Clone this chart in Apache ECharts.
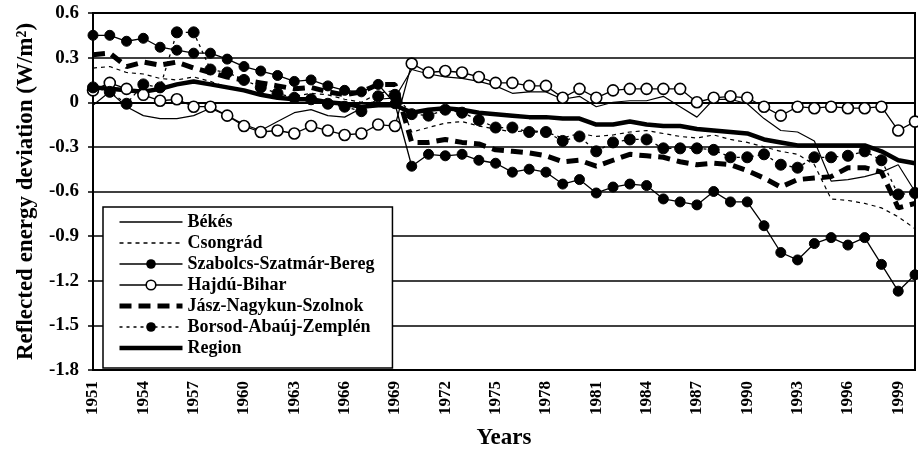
<!DOCTYPE html>
<html><head><meta charset="utf-8">
<script src="https://cdn.jsdelivr.net/npm/echarts@6/dist/echarts.min.js"></script>
<style>html,body{margin:0;padding:0;background:#fff}#c{width:918px;height:455px}</style>
</head><body><div id="c"></div>
<script>
var years = ['1951','1952','1953','1954','1955','1956','1957','1958','1959','1960',
'1961','1962','1963','1964','1965','1966','1967','1968','1969','1970',
'1971','1972','1973','1974','1975','1976','1977','1978','1979','1980',
'1981','1982','1983','1984','1985','1986','1987','1988','1989','1990',
'1991','1992','1993','1994','1995','1996','1997','1998','1999','2000'];

var bekes = [-0.02,0.07,-0.03,-0.09,-0.11,-0.11,-0.09,-0.04,-0.09,-0.15,
-0.19,-0.13,-0.07,-0.05,-0.09,-0.10,-0.04,0.02,0.03,0.22,
0.19,0.17,0.16,0.14,0.11,0.06,0.07,0.07,0.02,0.04,
-0.03,0.00,0.01,0.01,0.04,-0.03,-0.10,0.02,0.02,-0.01,
-0.11,-0.19,-0.20,-0.26,-0.53,-0.52,-0.50,-0.47,-0.42,-0.60];

var csongrad = [0.23,0.24,0.20,0.19,0.16,0.15,0.17,0.14,0.10,0.08,
0.05,0.03,0.04,0.06,0.05,0.02,0.00,0.06,0.08,-0.20,
-0.17,-0.14,-0.13,-0.16,-0.18,-0.20,-0.19,-0.20,-0.24,-0.21,
-0.23,-0.22,-0.20,-0.19,-0.21,-0.23,-0.24,-0.22,-0.25,-0.27,
-0.30,-0.33,-0.35,-0.42,-0.65,-0.66,-0.68,-0.71,-0.77,-0.85];

var szabolcs = [0.45,0.45,0.41,0.43,0.37,0.35,0.33,0.33,0.29,0.24,
0.21,0.18,0.14,0.15,0.11,0.08,0.07,0.12,-0.01,-0.43,
-0.35,-0.36,-0.35,-0.39,-0.41,-0.47,-0.45,-0.47,-0.55,-0.52,
-0.61,-0.57,-0.55,-0.56,-0.65,-0.67,-0.69,-0.60,-0.67,-0.67,
-0.83,-1.01,-1.06,-0.95,-0.91,-0.96,-0.91,-1.09,-1.27,-1.16];

var hajdu = [0.08,0.13,0.09,0.05,0.01,0.02,-0.03,-0.03,-0.09,-0.16,
-0.20,-0.19,-0.21,-0.16,-0.19,-0.22,-0.21,-0.15,-0.16,0.26,
0.20,0.21,0.20,0.17,0.13,0.13,0.11,0.11,0.03,0.09,
0.03,0.08,0.09,0.09,0.09,0.09,0.00,0.03,0.04,0.03,
-0.03,-0.09,-0.03,-0.04,-0.03,-0.04,-0.04,-0.03,-0.19,-0.13];

var jasz = [0.32,0.33,0.24,0.27,0.25,0.27,0.23,0.20,0.17,0.15,
0.13,0.11,0.09,0.10,0.07,0.05,0.07,0.12,0.12,-0.27,
-0.27,-0.25,-0.27,-0.28,-0.32,-0.33,-0.34,-0.36,-0.40,-0.39,
-0.43,-0.39,-0.35,-0.36,-0.37,-0.40,-0.42,-0.41,-0.42,-0.46,
-0.51,-0.57,-0.52,-0.51,-0.50,-0.44,-0.44,-0.47,-0.71,-0.68];

var borsod = [0.10,0.07,-0.01,0.12,0.10,0.47,0.47,0.22,0.20,0.15,
0.10,0.06,0.03,0.02,-0.01,-0.03,-0.06,0.04,0.05,-0.08,
-0.09,-0.05,-0.07,-0.12,-0.17,-0.17,-0.20,-0.20,-0.26,-0.23,
-0.33,-0.27,-0.25,-0.25,-0.31,-0.31,-0.31,-0.32,-0.37,-0.37,
-0.35,-0.42,-0.44,-0.37,-0.37,-0.36,-0.33,-0.39,-0.62,-0.61];

var region = [0.10,0.09,0.08,0.07,0.09,0.12,0.14,0.12,0.10,0.08,
0.05,0.03,0.02,0.02,0.00,-0.01,-0.03,-0.02,-0.02,-0.07,
-0.05,-0.04,-0.05,-0.07,-0.08,-0.09,-0.10,-0.10,-0.11,-0.11,
-0.15,-0.15,-0.13,-0.15,-0.16,-0.16,-0.18,-0.19,-0.20,-0.21,
-0.25,-0.27,-0.29,-0.29,-0.29,-0.29,-0.29,-0.33,-0.39,-0.41];

var seriesNames = ['Békés','Csongrád','Szabolcs-Szatmár-Bereg','Hajdú-Bihar','Jász-Nagykun-Szolnok','Borsod-Abaúj-Zemplén','Region'];
var yTitle = 'Reflected energy deviation (W/m²)';
var xTitle = 'Years';

var FONT = '"Liberation Serif","Times New Roman",serif';
var chart = echarts.init(document.getElementById('c'), null, {renderer:'canvas'});

var styles = [
  {lw: 1.2, llw: 1.6, type: 'solid', sym: 'none', size: 0},
  {lw: 1.2, llw: 1.6, type: [4, 4], sym: 'none', size: 0},
  {lw: 1.3, llw: 1.6, type: 'solid', sym: 'circle', size: 10},
  {lw: 1.3, llw: 1.6, type: 'solid', sym: 'circle', size: 11, open: true},
  {lw: 5, llw: 5, type: [12, 7], sym: 'none', size: 0},
  {lw: 1.3, llw: 1.6, type: [3, 4], sym: 'circle', size: 11},
  {lw: 4.5, llw: 4.5, type: 'solid', sym: 'none', size: 0}
];
var seriesData = [bekes, csongrad, szabolcs, hajdu, jasz, borsod, region];

var series = seriesNames.map(function (n, i) {
  var st = styles[i];
  return {
    name: n, type: 'line', data: seriesData[i], animation: false,
    symbol: st.sym, symbolSize: st.size, showSymbol: st.sym !== 'none', showAllSymbol: true,
    lineStyle: {color: '#000', width: st.lw, type: st.type},
    itemStyle: st.open ? {color: '#fff', borderColor: '#000', borderWidth: 1.6} : {color: '#000', borderColor: '#000'},
    emphasis: {disabled: true}
  };
});
var legendData = seriesNames.map(function (n, i) {
  var st = styles[i];
  var item = {name: n, lineStyle: {color: '#000', width: st.llw, type: st.type}};
  if (st.sym === 'none') item.itemStyle = {opacity: 0, color: 'rgba(0,0,0,0)', borderWidth: 0};
  else if (st.open) item.itemStyle = {color: '#fff', borderColor: '#000', borderWidth: 1.6};
  else item.itemStyle = {color: '#000', borderColor: '#000', borderWidth: 0};
  return item;
});

var option = {
  backgroundColor: '#fff',
  animation: false,
  grid: {left: 93, right: 3, top: 13, bottom: 82, show: true, borderColor: '#000', borderWidth: 2, backgroundColor: 'transparent'},
  legend: {
    data: legendData, orient: 'vertical', left: 103, top: 207,
    backgroundColor: '#fff', borderColor: '#000', borderWidth: 1.5,
    padding: [6, 18, 11, 14], itemWidth: 63, itemHeight: 12, itemGap: 3,
    textStyle: {fontFamily: FONT, fontWeight: 'bold', fontSize: 18, color: '#000'},
    selectedMode: false
  },
  xAxis: {
    type: 'category', data: years, boundaryGap: false,
    axisLine: {lineStyle: {color: '#000', width: 2}},
    axisTick: {show: false},
    axisLabel: {interval: 2, rotate: 90, margin: 11, fontFamily: FONT, fontWeight: 'bold', fontSize: 17, color: '#000'},
    splitLine: {show: false},
    name: xTitle, nameLocation: 'middle', nameGap: 57,
    nameTextStyle: {fontFamily: FONT, fontWeight: 'bold', fontSize: 23, color: '#000'}
  },
  yAxis: {
    type: 'value', min: -1.8, max: 0.6, interval: 0.3,
    axisLine: {show: true, lineStyle: {color: '#000', width: 2}},
    axisTick: {show: true, length: 5, lineStyle: {color: '#000', width: 1.5}},
    axisLabel: {margin: 14, fontFamily: FONT, fontWeight: 'bold', fontSize: 19, color: '#000',
      formatter: function (v) { return String(Number(v.toFixed(1))); }},
    splitLine: {show: true, lineStyle: {color: ['#000','#000','#000','#000','#000','#000','#888','#000','#000'], width: 1.6}},
    name: yTitle, nameLocation: 'middle', nameGap: 52,
    nameTextStyle: {fontFamily: FONT, fontWeight: 'bold', fontSize: 23, color: '#000'}
  },
  series: series
};
chart.setOption(option);
</script>
</body></html>
